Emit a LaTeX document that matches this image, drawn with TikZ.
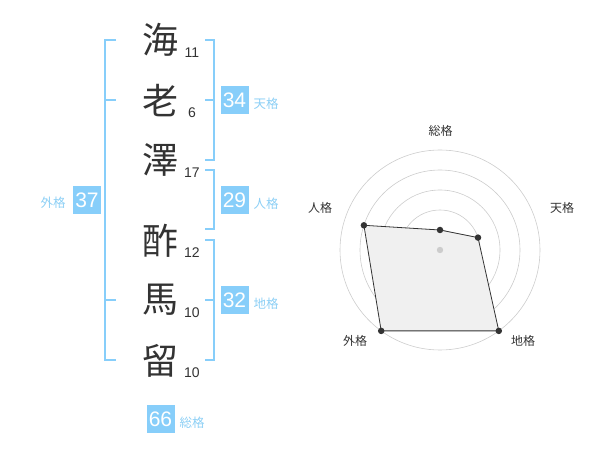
\documentclass[tikz,border=0pt]{standalone}
\usepackage{fontspec}
\setmainfont{Liberation Sans}
\newfontfamily\cjk{Noto Sans CJK JP}
\definecolor{sky}{HTML}{87CEFA}
\definecolor{lbl}{HTML}{8CCFF5}
\definecolor{ink}{HTML}{333333}
\definecolor{ring}{HTML}{CCCCCC}
\begin{document}
\begin{tikzpicture}[x=1pt,y=-1pt,
  kanji/.style={font=\cjk\fontsize{36}{36}\selectfont, text=ink, inner sep=0pt},
  strokes/.style={font=\fontsize{14}{14}\selectfont, text=ink, inner sep=0pt},
  numbox/.style={fill=sky, text=white, minimum width=28pt, minimum height=28pt, inner sep=0pt, font=\fontsize{21}{21}\selectfont},
  kakulbl/.style={font=\cjk\fontsize{12.5}{12.5}\selectfont, text=lbl, inner sep=0pt},
  bracket/.style={draw=sky, line width=2pt},
  radarlbl/.style={font=\cjk\fontsize{12}{12}\selectfont, text=ink, inner sep=0pt},
  ringline/.style={draw=ring, line width=0.6pt},
  pt/.style={circle, fill=ink, inner sep=0pt, minimum size=6.5pt}]
\useasboundingbox (0,0) rectangle (600,470);
% kanji
\node[kanji] (k1) at (160,40) {海};
\node[kanji] (k2) at (160,101) {老};
\node[kanji] (k3) at (160,160) {澤};
\node[kanji] (k4) at (160,241) {酢};
\node[kanji] (k5) at (160,300) {馬};
\node[kanji] (k6) at (160,361) {留};
\node[strokes] (s1) at (192,53) {11};
\node[strokes] (s2) at (192,113) {6};
\node[strokes] (s3) at (192,173) {17};
\node[strokes] (s4) at (192,253) {12};
\node[strokes] (s5) at (192,313) {10};
\node[strokes] (s6) at (192,373) {10};
% brackets
\draw[bracket] (116,40) -- (105,40) -- (105,360) -- (116,360);
\draw[bracket] (105,100) -- (116,100);
\draw[bracket] (105,300) -- (116,300);
\draw[bracket] (205,40) -- (214,40) -- (214,160) -- (205,160);
\draw[bracket] (205,100) -- (214,100);
\draw[bracket] (205,170) -- (214,170) -- (214,229) -- (205,229);
\draw[bracket] (205,240) -- (214,240) -- (214,360) -- (205,360);
\draw[bracket] (205,300) -- (214,300);
% boxes
\node[numbox] (b37) at (87,200) {37};
\node[kakulbl] (l37) at (53,203) {外格};
\node[numbox] (b34) at (234.5,100.5) {34};
\node[kakulbl] (l34) at (266,104) {天格};
\node[numbox] (b29) at (234.5,200) {29};
\node[kakulbl] (l29) at (266,204) {人格};
\node[numbox] (b32) at (234.5,300.5) {32};
\node[kakulbl] (l32) at (266,304) {地格};
\node[numbox] (b66) at (160.5,419) {66};
\node[kakulbl] (l66) at (192,423) {総格};
% radar
\coordinate (c) at (440,250);
\foreach \r in {20,40,60,80,100} \draw[ringline] (c) circle[radius=\r];
\path (c) ++(0,-20) coordinate (p1);
\path (c) ++(38.0,-12.4) coordinate (p2);
\path (c) ++(58.8,80.9) coordinate (p3);
\path (c) ++(-58.8,80.9) coordinate (p4);
\path (c) ++(-76.1,-24.7) coordinate (p5);
\fill[black!6] (p1) -- (p2) -- (p3) -- (p4) -- (p5) -- cycle;
\draw[ink, line width=0.8pt] (p1) -- (p2) -- (p3) -- (p4) -- (p5) -- cycle;
\fill[ring] (c) circle[radius=3.2];
\foreach \p in {p1,p2,p3,p4,p5} \node[pt] at (\p) {};
\node[radarlbl] (r1) at (440.5,131) {総格};
\node[radarlbl] (r2) at (562,208) {天格};
\node[radarlbl] (r3) at (523,341) {地格};
\node[radarlbl] (r4) at (355,341) {外格};
\node[radarlbl] (r5) at (320,208) {人格};
\end{tikzpicture}
\end{document}
